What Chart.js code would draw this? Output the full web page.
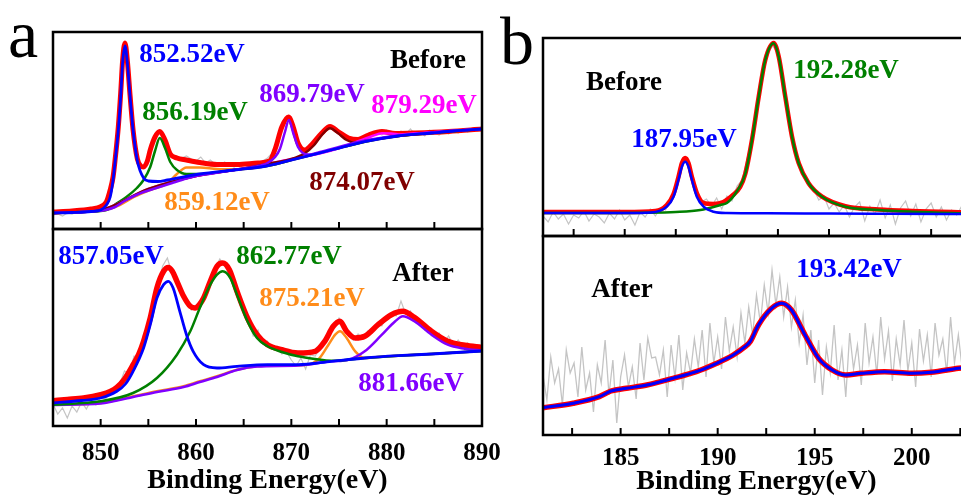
<!DOCTYPE html>
<html><head><meta charset="utf-8">
<script src="https://cdn.jsdelivr.net/npm/chart.js@4.4.0/dist/chart.umd.min.js"></script>
<style>
html,body{margin:0;padding:0;background:#fff;width:961px;height:501px;overflow:hidden;position:relative;}
canvas{position:absolute;}
.big{position:absolute;font-family:"Liberation Serif","Times New Roman",serif;font-size:68px;line-height:1;color:#000;}
.t{position:absolute;font-family:"Liberation Serif","Times New Roman",serif;font-weight:bold;font-size:27px;line-height:1;white-space:nowrap;transform:translate(-50%,-50%);}
</style></head><body>
<div class="big" style="left:8px;top:0px;">a</div>
<div class="big" style="left:500px;top:7px;">b</div>
<canvas id="cAT"></canvas>
<canvas id="cAB"></canvas>
<canvas id="cBT"></canvas>
<canvas id="cBB"></canvas>
<div class="t" style="left:192px;top:53px;color:#0000ff">852.52eV</div>
<div class="t" style="left:428px;top:59px;color:#000">Before</div>
<div class="t" style="left:195px;top:111px;color:#008000">856.19eV</div>
<div class="t" style="left:312px;top:93px;color:#8000ff">869.79eV</div>
<div class="t" style="left:424px;top:104px;color:#ff00ff">879.29eV</div>
<div class="t" style="left:362px;top:181px;color:#800000">874.07eV</div>
<div class="t" style="left:217px;top:201px;color:#ff8c1a">859.12eV</div>
<div class="t" style="left:111px;top:255px;color:#0000ff">857.05eV</div>
<div class="t" style="left:289px;top:255px;color:#008000">862.77eV</div>
<div class="t" style="left:423px;top:272px;color:#000">After</div>
<div class="t" style="left:312px;top:297px;color:#ff8c1a">875.21eV</div>
<div class="t" style="left:411px;top:382px;color:#8000ff">881.66eV</div>
<div class="t" style="left:624px;top:81px;color:#000">Before</div>
<div class="t" style="left:684px;top:138px;color:#0000ff">187.95eV</div>
<div class="t" style="left:846px;top:69px;color:#008000">192.28eV</div>
<div class="t" style="left:622px;top:288px;color:#000">After</div>
<div class="t" style="left:849px;top:268px;color:#0000ff">193.42eV</div>
<script>
// ---------- tick values ----------
const aTickMarks = [850,855,860,865,870,875,880,885];
const aTickLabels = [850,860,870,880,890];
const bTickMarks = [182.5,185,187.5,190,192.5,195,197.5,200,202.5];
const bTickLabels = [185,190,195,200];

// ---------- panel a, Before ----------
const aTopRawE = [845,845.5,846,846.5,847,847.5,848,848.5,849,849.5,850,850.5,
 850.75,851,851.25,851.5,851.75,852,852.25,852.5,852.75,853,853.25,853.5,853.75,854,854.25,854.5,
 855,855.5,856,856.5,857,857.5,858,858.5,859,859.5,860,860.5,861,861.5,862,862.5,863,863.5,864,864.5,
 865,865.5,866,866.5,867,867.5,868,868.5,869,869.5,870,870.5,871,871.5,872,872.5,873,873.5,874,874.5,
 875,875.5,876,876.5,877,877.5,878,878.5,879,879.5,880,880.5,881,881.5,882,882.5,883,883.5,884,884.5,
 885,885.5,886,886.5,887,887.5,888,888.5,889,889.5,890];
const aTopRawI = [14,15,13,16,15,17,16,18,17,20,21,25,
 29,37,49,66,92,124,160,184,170,142,114,92,75,66,61,61,
 72,87,96,94,80,73,72,71,73,70,68,72,66,69,65,63,67,64,62,66,
 60,63,67,64,68,71,76,89,102,110,106,92,81,79,83,88,93,99,102,101,
 96,93,90,88,91,88,94,93,97,94,99,95,93,98,95,100,94,97,93,99,
 96,94,98,95,99,96,100,97,101,98,99];
const aTopFitE = [845,847,849,850,850.6,851.0,851.3,851.5,851.85,852.1,852.3,852.55,852.8,853.08,853.4,853.85,854.2,854.5,854.9,855.2,855.7,856.2,856.75,857.3,858.0,859,860.4,862.2,864.3,866.5,867.7,868.3,869.0,869.7,870.2,870.7,871.4,872.1,873.2,874.06,874.9,876.0,877.0,878.1,879.5,880.9,883,886.5,890];
const aTopFitI = [17,18,20,22.3,27,39,52,68,102,136,168,186,168,134,99,70,63,62,68,79,92,97.5,89,75,71,69,66.5,64.5,64.5,66,68,80,102,112,102,86,79,84,96,102.5,97.5,91,89.5,94,97.5,95.5,96,97.5,100];
const aTop852E = [845,847,849,850,850.6,851.0,851.3,851.5,851.85,852.1,852.3,852.55,852.8,853.08,853.4,853.85,854.5,855,856,857,860.4,864,867.4,870.7,874.2,877.7,881.2,884.7,887,890];
const aTop852I = [16,16.5,17.5,19,24,32,49,66,99,132,166,183,166,133,99,68,51,48,47.5,49,55,59,63,70.7,79,87.3,93,96,98,100];
const aTop856E = [845,848,850.6,851.7,852.7,853.8,854.5,855.2,855.7,856.2,856.75,857.3,858.0,859.0,860.4,862,864,867.4,870.7,874.2,877.7,881.2,884.7,890];
const aTop856I = [16,17,19,25.7,32,41,49,62,78,91,81,67,59,55,55,56.5,59,63,70.7,79,87.3,93,96,100];
const aTop859E = [845,848,850.5,852,853.5,855.2,856.9,858.0,859.0,860.4,862.2,864.3,867.4,870.7,874.2,877.7,881.2,884.7,890];
const aTop859I = [16,17,19,24,32,39,45,55,61.5,61.5,60,59.7,63,70.7,79,87.3,93,96,100];
const aTop869E = [845,847,849,850.5,851.5,852.5,853.5,854.5,855.5,856.5,857.5,858.5,860,862,864,866,867.5,868.3,868.8,869.3,869.75,870.2,870.7,871.2,871.8,873,875,877,880,883,886,890];
const aTop869I = [16,16.5,17.5,19,22,28,33,37,40,43,46,49,53,56,59,62,66,72,80,96,109,96,82,76,74.5,77,82,87,92,95,97.5,100];
const aTop874E = [845,850,855,860,865,868,870,871.4,872.4,873.2,874.06,874.9,875.8,876.7,878,881.2,884.7,890];
const aTop874I = [16,19,40,53,60.5,66,70,75.7,84,94,100.7,95.7,89,86.3,88.5,93,96,100];
const aTop879E = [845,850,855,860,865,870,874,877.4,878.5,879.5,880.5,881.5,883,886,890];
const aTop879I = [16,19,40,53,60.5,70,78,89,93,95.7,95.5,94.5,95.7,97.5,100];

// ---------- panel a, After ----------
const aBotRawE = [845,845.5,846,846.5,847,847.5,848,848.5,849,849.5,850,850.5,851,851.5,852,852.5,853,853.5,854,854.5,
 855,855.5,856,856.5,857,857.5,858,858.5,859,859.5,860,860.5,861,861.5,862,862.5,863,863.5,864,864.5,
 865,865.5,866,866.5,867,867.5,868,868.5,869,869.5,870,870.5,871,871.5,872,872.5,873,873.5,874,874.5,
 875,875.5,876,876.5,877,877.5,878,878.5,879,879.5,880,880.5,881,881.5,882,882.5,883,883.5,884,884.5,
 885,885.5,886,886.5,887,887.5,888,888.5,889,889.5,890];
const aBotRawI = [22,12,18,8,20,14,24,17,26,21,29,27,33,36,42,55,52,70,68,92,
 99,124,139,160,168,152,146,133,123,116,121,124,136,148,158,167,160,152,140,128,
 113,106,90,96,82,85,77,80,72,74,66,60,68,57,71,70,78,83,95,100,
 108,98,91,86,92,87,95,93,103,100,109,112,110,125,112,115,104,106,96,99,
 89,93,84,90,80,86,79,83,74,81,77];
const aBotFitE = [845,846.5,848.2,850,851,851.7,852.5,853.4,854,854.5,855.2,855.9,856.6,857.1,857.5,858.0,858.7,859.4,859.9,860.4,860.8,861.5,862.2,862.8,863.5,864.3,865.4,866.4,867.5,869.0,870.7,872.5,873.5,874.4,875.1,875.8,876.7,877.7,879.1,880.5,881.7,882.9,884.7,886.4,888.2,890];
const aBotFitI = [25.3,26.5,28,31.3,34.5,38.7,47,61.3,72,84.7,108,138,154.7,158.5,155,144.7,129.7,119.7,118,122,128,144.7,159.7,163,156.3,134.7,108,91.3,81.3,76.3,73,74.7,84.7,99.7,104.7,94.7,88,89.7,101.3,111.3,114.7,108.7,94.7,84.7,80.7,78.5];
const aBot857E = [845,848,850,851.7,852.6,853.4,854.5,855.2,855.9,856.6,857.1,857.6,858.3,859.0,859.7,860.8,862.2,864.3,867.5,870.7,874.2,877.7,881.2,884.7,890];
const aBot857I = [23,25.5,28,34.7,42,54.7,78,101.3,128,141.3,144.7,138,114.7,91.3,74.7,61.3,58,59.7,61.3,61.3,64.7,68,70.3,72,75];
const aBot862E = [845,850,853.4,855.9,858.0,859.4,860.4,861.5,862.2,862.8,863.6,864.3,865.4,866.4,867.5,869.0,870.7,872.5,874.2,877.7,881.2,884.7,890];
const aBot862I = [21.3,24.7,33,48,71.3,94.7,118,141.3,151.3,154.7,148,131.3,104.7,88,79.7,74,69.7,67,65.3,68,70.3,72,75];
const aBot875E = [845,850,853.4,855.9,858.7,860.4,862.2,864.3,866.4,868,870.7,872.8,873.9,874.6,875.1,875.8,876.7,877.7,879,881.2,884.7,890];
const aBot875I = [21.3,23,29.7,34.7,39.7,44.7,49.7,56.3,59.7,60.5,60.7,66.3,81.3,91.3,94.7,88,74.7,68,69,70.3,72,75];
const aBot881E = [845,850,853.4,855.9,858.7,860.4,862.2,864.3,866.4,870.7,874.2,876,877.7,879.5,880.9,881.7,882.9,884.7,886.4,888.2,890];
const aBot881I = [21,22.5,29,34,39,44,49,56,59.5,60.5,64.7,66.3,74.7,91.3,104.7,109.7,104.7,91.3,81.3,77.3,75.3];

// ---------- panel b, Before ----------
const bTopRawE = [181,181.25,181.5,181.75,182,182.25,182.5,182.75,183,183.25,183.5,183.75,184,184.25,184.5,184.75,185,185.25,185.5,185.75,
 186,186.25,186.5,186.75,187,187.25,187.5,187.75,188,188.25,188.5,188.75,189,189.25,189.5,189.75,190,190.25,190.5,190.75,
 191,191.25,191.5,191.75,192,192.25,192.5,192.75,193,193.25,193.5,193.75,194,194.25,194.5,194.75,195,195.25,195.5,195.75,
 196,196.25,196.5,196.75,197,197.25,197.5,197.75,198,198.25,198.5,198.75,199,199.25,199.5,199.75,200,200.25,200.5,200.75,
 201,201.25,201.5,201.75,202];
const bTopRawI = [20,14,24,17,22,12,21,18,25,15,22,19,13,23,17,26,16,21,11,24,
 19,27,20,28,26,38,50,70,76,60,42,34,37,30,38,27,40,35,50,56,
 78,98,133,163,183,190,182,152,121,95,73,62,50,47,36,40,27,33,24,31,
 19,29,34,15,30,22,36,18,31,12,28,35,20,32,14,27,33,19,29,16,
 26,21,30,15,24];
const bTopFitE = [181,185,186.5,187.06,187.39,187.63,187.8,187.96,188.12,188.29,188.53,188.86,189.35,189.83,190.3,190.65,190.9,191.23,191.56,191.88,192.29,192.54,192.86,193.19,193.52,194.0,194.66,195.8,197.44,199.07,202];
const bTopFitI = [24,24,25,31,42,59,73,78,73,59,43,33,32,34,41,49,62,96,139.3,176,193,179.3,139.3,99.3,72.7,52.7,39.3,29.8,26.5,25,23.5];
const bTop187E = [181,183,185,186.3,187.06,187.39,187.63,187.8,187.96,188.12,188.29,188.53,188.86,189.35,190,192,195,198,202];
const bTop187I = [23,23,23,23.5,29.3,39.3,56,69.3,74.3,69.3,56,39.3,29.3,24.3,23,22.7,22.5,22.3,22];
const bTop192E = [181,184,186,187.5,188.7,189.68,190.0,190.5,190.9,191.23,191.56,191.88,192.29,192.54,192.86,193.19,193.52,194.0,194.66,195.8,197.44,199.07,202];
const bTop192I = [23,23,23.2,24,26,31,33,45,62,96,139.3,176,192.7,179.3,139.3,99.3,72.7,52.7,39.3,29.3,26,24.3,22.5];

// ---------- panel b, After ----------
const bBotRawE = [181,181.2,181.4,181.6,181.8,182,182.2,182.4,182.6,182.8,183,183.2,183.4,183.6,183.8,184,184.2,184.4,184.6,184.8,
 185,185.2,185.4,185.6,185.8,186,186.2,186.4,186.6,186.8,187,187.2,187.4,187.6,187.8,188,188.2,188.4,188.6,188.8,
 189,189.2,189.4,189.6,189.8,190,190.2,190.4,190.6,190.8,191,191.2,191.4,191.6,191.8,192,192.2,192.4,192.6,192.8,
 193,193.2,193.4,193.6,193.8,194,194.2,194.4,194.6,194.8,195,195.2,195.4,195.6,195.8,196,196.2,196.4,196.6,196.8,
 197,197.2,197.4,197.6,197.8,198,198.2,198.4,198.6,198.8,199,199.2,199.4,199.6,199.8,200,200.2,200.4,200.6,200.8,
 201,201.2,201.4,201.6,201.8,202,202.2,202.4,202.6,202.8,203];
const bBotRawI = [60,35,78,52,66,30,85,62,72,38,88,45,62,23,70,52,95,40,75,12,
 58,80,48,68,36,92,55,97,77,78,60,85,38,90,57,100,45,82,62,96,
 68,105,58,112,72,98,66,118,84,108,78,122,92,128,100,140,112,150,122,165,
 130,158,118,148,108,135,92,120,70,105,52,95,40,88,62,110,55,85,38,102,
 66,90,50,112,72,98,60,118,76,104,54,96,70,115,64,92,48,106,74,100,
 58,112,80,96,62,118,72,100,66,92,78];
const bBotFitE = [181,182.56,183.9,184.5,185.3,186.35,187.7,188.9,189.95,190.8,191.41,191.67,192.1,192.78,193.3,193.8,194.5,195.2,195.9,196.6,197.4,198.6,200.0,201.0,202.4,203];
const bBotFitI = [27.3,31.7,38.3,44,46.7,50,56.7,63.3,71.7,80,88.3,93.3,110,126.7,131.7,125,100,76.7,65,60,61.7,63.3,61.7,62.7,66.7,68];

// ---------- helpers ----------
const FONT = '"Liberation Serif","Times New Roman",serif';
Chart.defaults.font.family = FONT;
const pts = (E, I) => E.map((e, i) => ({x: e, y: I[i]}));
const line = (E, I, color, w, order, smooth = true) => ({
  data: pts(E, I), borderColor: color, borderWidth: w, pointRadius: 0, fill: false,
  order: order, cubicInterpolationMode: smooth ? 'monotone' : 'default', tension: 0
});

const framePlugin = {
  id: 'frame',
  afterDatasetsDraw(chart, args, opts) {
    const {ctx, chartArea: a} = chart;
    const x = chart.scales.x;
    ctx.save();
    ctx.strokeStyle = '#000';
    ctx.lineWidth = 2;
    (opts.marks || []).forEach(v => {
      const px = x.getPixelForValue(v);
      if (px <= a.left + 1 || px >= a.right - 1) return;
      ctx.beginPath(); ctx.moveTo(px, a.bottom); ctx.lineTo(px, a.bottom - 7); ctx.stroke();
    });
    ctx.lineWidth = 2.5;
    ctx.strokeRect(a.left, a.top, a.right - a.left, a.bottom - a.top);
    ctx.restore();
  }
};

function make(id, pos, datasets, xs, ymax, marks, axis) {
  const cv = document.getElementById(id);
  cv.width = pos.w; cv.height = pos.h;
  cv.style.left = pos.l + 'px'; cv.style.top = pos.t + 'px';
  cv.style.width = pos.w + 'px'; cv.style.height = pos.h + 'px';
  const xScale = {
    type: 'linear', min: xs[0], max: xs[1],
    display: !!axis,
    grid: {display: false, drawTicks: false},
    border: {display: false},
    ticks: {stepSize: xs[2], includeBounds: false, autoSkip: false, maxRotation: 0,
      color: '#000', font: {size: 25, weight: 'bold', family: FONT},
      padding: axis ? axis.tp : 0,
      callback: v => (axis && axis.labels.some(l => Math.abs(l - v) < 1e-6)) ? String(v) : ''}
  };
  if (axis) {
    xScale.title = {display: true, text: 'Binding Energy(eV)', color: '#000',
      font: {size: 28, weight: 'bold', family: FONT}, padding: {top: 0, bottom: 0}};
    xScale.afterFit = s => { s.height = axis.h; };
  }
  return new Chart(cv, {
    type: 'line',
    data: {datasets},
    options: {
      responsive: false, animation: false, events: [],
      layout: {padding: pos.pad},
      plugins: {legend: {display: false}, tooltip: {enabled: false}, frame: {marks}},
      scales: {x: xScale, y: {type: 'linear', min: 0, max: ymax, display: false}}
    },
    plugins: [framePlugin]
  });
}

const GRAY = '#c4c4c4', RED = '#ff0000', BLUE = '#0000ff', GREEN = '#008000',
      ORANGE = '#ff8c1a', PURPLE = '#8000ff', BROWN = '#800000', MAGENTA = '#ff00ff';

make('cAT', {l: 49, t: 28, w: 437, h: 205, pad: {left: 4, right: 4, top: 4, bottom: 4}}, [
  line(aTopRawE, aTopRawI, GRAY, 1.2, 20, false),
  line(aTopFitE, aTopFitI, RED, 5, 19),
  line(aTop859E, aTop859I, ORANGE, 2.5, 8),
  line(aTop856E, aTop856I, GREEN, 2.5, 7),
  line(aTop879E, aTop879I, MAGENTA, 2.5, 6),
  line(aTop874E, aTop874I, BROWN, 2.5, 5),
  line(aTop869E, aTop869I, PURPLE, 2.5, 4),
  line(aTop852E, aTop852I, BLUE, 2.8, 1)
], [845, 890, 5], 197, aTickMarks, null);

make('cAB', {l: 37, t: 225, w: 485, h: 273, pad: {left: 16, right: 40, top: 4, bottom: 0}}, [
  line(aBotRawE, aBotRawI, GRAY, 1.2, 20, false),
  line(aBotFitE, aBotFitI, RED, 5.5, 19),
  line(aBot875E, aBot875I, ORANGE, 2.5, 8),
  line(aBot881E, aBot881I, PURPLE, 2.5, 7),
  line(aBot862E, aBot862I, GREEN, 2.5, 6),
  line(aBot857E, aBot857I, BLUE, 2.8, 1)
], [845, 890, 5], 197, aTickMarks, {labels: aTickLabels, h: 72, tp: 13});

make('cBT', {l: 539, t: 34, w: 437, h: 206, pad: {left: 4, right: 4, top: 4, bottom: 4}}, [
  line(bTopRawE, bTopRawI, GRAY, 1.2, 20, false),
  line(bTopFitE, bTopFitI, RED, 4.5, 19),
  line(bTop192E, bTop192I, GREEN, 2.5, 2),
  line(bTop187E, bTop187I, BLUE, 2.5, 1)
], [181, 202, 2.5], 198, bTickMarks, null);

make('cBB', {l: 531, t: 232, w: 451, h: 267, pad: {left: 12, right: 12, top: 4, bottom: 0}}, [
  line(bBotRawE, bBotRawI, GRAY, 1.3, 20, false),
  line(bBotFitE, bBotFitI, RED, 5.5, 19),
  line(bBotFitE, bBotFitI, BLUE, 3, 1)
], [181, 203, 2.5], 199, bTickMarks, {labels: bTickLabels, h: 64, tp: 9});
</script>
</body></html>
